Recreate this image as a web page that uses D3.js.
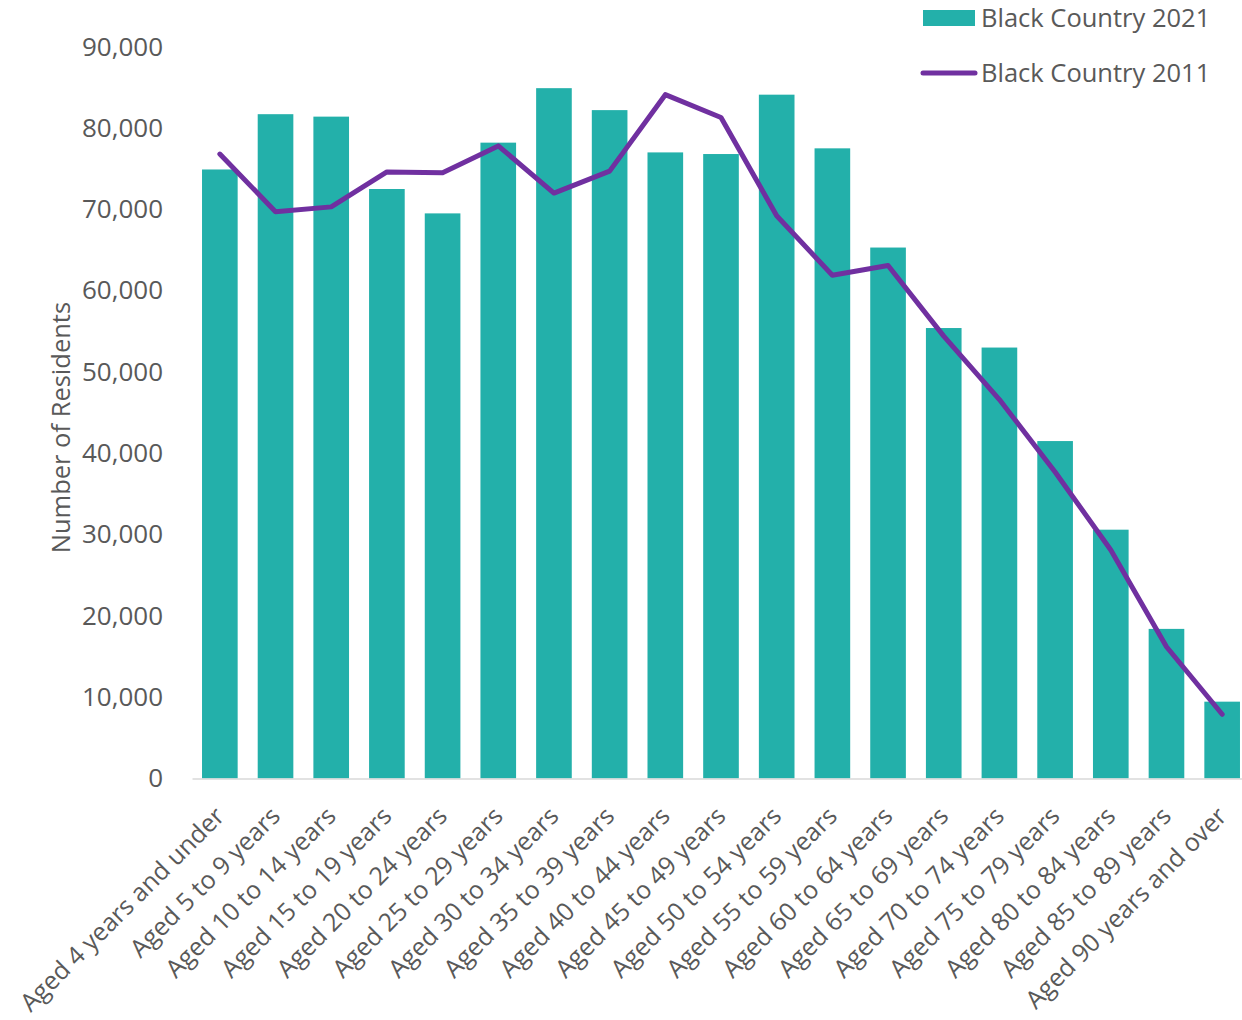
<!DOCTYPE html>
<html>
<head>
<meta charset="utf-8">
<script src="https://cdn.jsdelivr.net/npm/d3@7"></script>
<style>
  body { margin: 0; background: #fff; }
  svg { display: block; }
</style>
</head>
<body>
<div id="chart"></div>
<script>
const ageGroups = [
  'Aged 4 years and under', 'Aged 5 to 9 years', 'Aged 10 to 14 years',
  'Aged 15 to 19 years', 'Aged 20 to 24 years', 'Aged 25 to 29 years',
  'Aged 30 to 34 years', 'Aged 35 to 39 years', 'Aged 40 to 44 years',
  'Aged 45 to 49 years', 'Aged 50 to 54 years', 'Aged 55 to 59 years',
  'Aged 60 to 64 years', 'Aged 65 to 69 years', 'Aged 70 to 74 years',
  'Aged 75 to 79 years', 'Aged 80 to 84 years', 'Aged 85 to 89 years',
  'Aged 90 years and over'
];
const residents2021 = [
  74900, 81700, 81400, 72500, 69500, 78200, 84900, 82200, 77000, 76800,
  84100, 77500, 65300, 55400, 53000, 41500, 30600, 18400, 9450
];
const residents2011 = [
  76800, 69700, 70300, 74600, 74500, 77800, 72000, 74700, 84100, 81300,
  69200, 61900, 63100, 54400, 46600, 37700, 28100, 16200, 7900
];
const yTicks = [0, 10000, 20000, 30000, 40000, 50000, 60000, 70000, 80000, 90000];
const seriesNames = ['Black Country 2021', 'Black Country 2011'];

const width = 1242;
const height = 1020;
const margin = { top: 46.7, right: -8, bottom: 241.5, left: 192 };
const font = "'Open Sans', sans-serif";
const textColor = '#595959';
const barColor = '#23B0AA';
const lineColor = '#7030A0';

const svg = d3.select('#chart').append('svg')
  .attr('width', width)
  .attr('height', height)
  .attr('font-family', font);

const xScale = d3.scaleBand()
  .domain(ageGroups)
  .range([margin.left, width - margin.right])
  .paddingInner(0.36)
  .paddingOuter(0.18);

const yScale = d3.scaleLinear()
  .domain([0, 90000])
  .range([height - margin.bottom, margin.top]);

const data = ageGroups.map((name, i) => ({
  name, v2021: residents2021[i], v2011: residents2011[i]
}));

// y axis labels only, no line
svg.append('g')
  .attr('transform', `translate(${margin.left},0)`)
  .call(d3.axisLeft(yScale).tickValues(yTicks).tickSize(0).tickPadding(29)
    .tickFormat(d3.format(',')))
  .call(g => g.select('.domain').remove())
  .call(g => g.selectAll('text')
    .attr('font-size', 26)
    .attr('font-family', font)
    .attr('fill', textColor));

// bars
svg.append('g')
  .selectAll('rect')
  .data(data)
  .join('rect')
  .attr('x', d => xScale(d.name))
  .attr('y', d => yScale(d.v2021))
  .attr('width', xScale.bandwidth())
  .attr('height', d => yScale(0) - yScale(d.v2021))
  .attr('fill', barColor);

// x axis
svg.append('g')
  .attr('transform', `translate(0,${yScale(0)})`)
  .call(d3.axisBottom(xScale).tickSize(0).tickFormat(''))
  .call(g => g.select('.domain').attr('stroke', '#D9D9D9').attr('stroke-width', 1.5));

svg.append('g')
  .selectAll('text')
  .data(ageGroups)
  .join('text')
  .attr('transform', d => `translate(${xScale(d) + xScale.bandwidth() / 2},${yScale(0) + 33}) rotate(-45)`)
  .attr('text-anchor', 'end')
  .attr('dy', '0.35em')
  .attr('font-size', 25)
  .attr('fill', textColor)
  .text(d => d);

// line
const line = d3.line()
  .x(d => xScale(d.name) + xScale.bandwidth() / 2)
  .y(d => yScale(d.v2011));

svg.append('path')
  .datum(data)
  .attr('d', line)
  .attr('fill', 'none')
  .attr('stroke', lineColor)
  .attr('stroke-width', 5)
  .attr('stroke-linejoin', 'round')
  .attr('stroke-linecap', 'round');

// y axis title
svg.append('text')
  .attr('transform', `translate(70,${(yScale(0) + yScale(90000)) / 2 + 15}) rotate(-90)`)
  .attr('text-anchor', 'middle')
  .attr('font-size', 25.5)
  .attr('fill', textColor)
  .text('Number of Residents');

// legend
const legend = svg.append('g')
  .attr('transform', 'translate(923,18)');

legend.append('rect')
  .attr('x', 0)
  .attr('y', -8)
  .attr('width', 52)
  .attr('height', 16)
  .attr('fill', barColor);

legend.append('line')
  .attr('x1', 0)
  .attr('x2', 52)
  .attr('y1', 55)
  .attr('y2', 55)
  .attr('stroke', lineColor)
  .attr('stroke-width', 5)
  .attr('stroke-linecap', 'round');

legend.selectAll('text')
  .data(seriesNames)
  .join('text')
  .attr('x', 58)
  .attr('y', (d, i) => i * 55)
  .attr('dy', '0.35em')
  .attr('font-size', 25.5)
  .attr('fill', textColor)
  .text(d => d);
</script>
</body>
</html>
